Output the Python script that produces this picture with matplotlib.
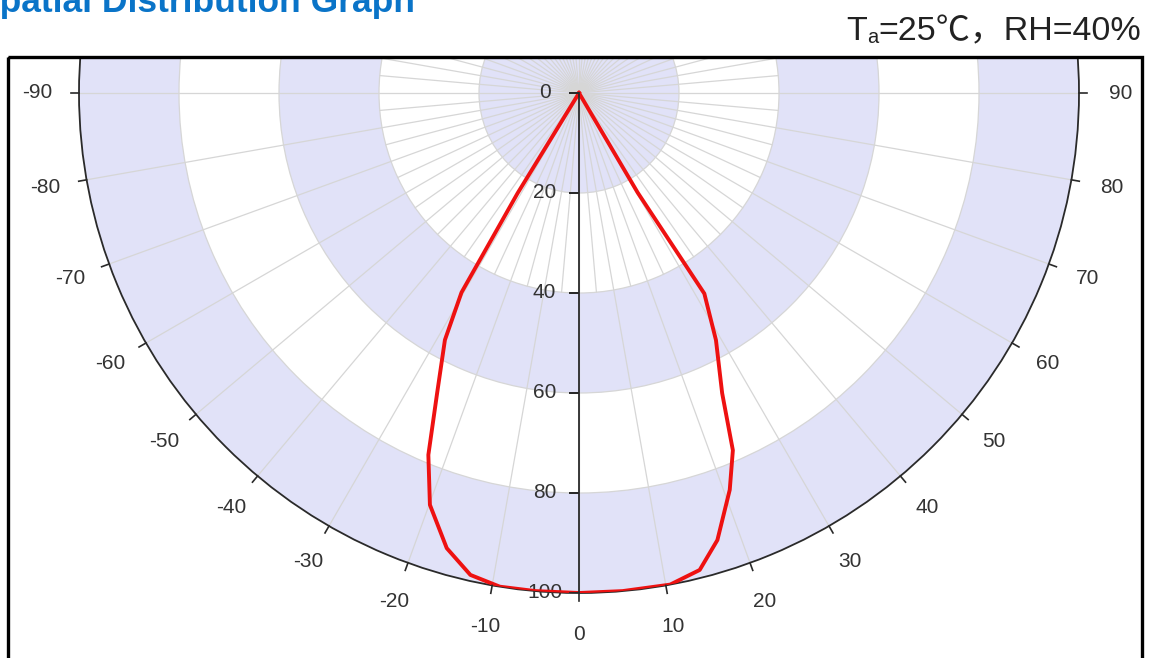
import numpy as np
import matplotlib.pyplot as plt
from matplotlib.patches import Rectangle

# relative luminous intensity (%) traced along the emission lobe, left to right
lobe_angle = [-31.5, -31.5, -30.5, -28.5, -25.3, -22.6, -19.9, -16.2, -12.7, -9.1, -5, 0,
              5, 10.5, 14.2, 17.2, 20.8, 23.3, 25.5, 29.0, 32.0, 30.5, 30.5]
lobe_value = [0, 23.5, 46.3, 56.2, 66.4, 78.4, 87.6, 94.8, 98.8, 100, 100, 100,
              100, 100, 98.4, 93.6, 84.9, 77.8, 66.5, 56.5, 47.3, 23.1, 0]

angle_ticks = list(range(-90, 91, 10))
radius_ticks = [0, 20, 40, 60, 80, 100]

W, H = 1150, 658
cx, cy, R = 579, 93, 500

band = '#e1e2f8'
grid = '#d6d6d6'
dark = '#2a2a2a'
label_font = 'Liberation Sans'

fig = plt.figure(figsize=(W / 100, H / 100), dpi=100)
ax = fig.add_axes([(cx - R) / W, (H - cy - R) / H, 2 * R / W, 2 * R / H],
                  projection='polar')
ax.set_theta_zero_location('S')
ax.set_theta_direction(1)
ax.set_ylim(0, 100)
ax.set_xticks([])
ax.set_yticks([20, 40, 60, 80])
ax.set_yticklabels([])
ax.yaxis.grid(True, color=grid, lw=0.9)
ax.xaxis.grid(False)
ax.spines['polar'].set_color(dark)
ax.spines['polar'].set_linewidth(1.3)

# shaded rings
for lo in (0, 40, 80):
    ax.bar(0, 20, width=2 * np.pi, bottom=lo, color=band, lw=0, zorder=0.5)

# spokes
for a in range(0, 360, 10):
    ax.plot([np.deg2rad(a)] * 2, [0, 100], color=grid, lw=0.9, zorder=1)
for a in range(5, 360, 10):
    ax.plot([np.deg2rad(a)] * 2, [0, 40], color=grid, lw=0.9, zorder=1)

# angle ticks and labels
for a in angle_ticks:
    t = np.deg2rad(a)
    ax.plot([t, t], [100, 101.6], color=dark, lw=1.2, clip_on=False, zorder=5)
    ax.text(t, 108.3, str(a), ha='center', va='center', fontsize=15,
            color='#333333', family=label_font, clip_on=False)

# radial axis
ax.plot([0, 0], [0, 100], color=dark, lw=1.3, zorder=5)
ax.plot([0] * len(radius_ticks), radius_ticks, ls='none', marker=0, ms=7,
        mec=dark, mew=1.2, zorder=5)
for r in radius_ticks:
    ax.annotate(str(r), xy=(0, r), xytext=(-34.5, 0), textcoords='offset pixels',
                ha='center', va='center', fontsize=15, color='#333333',
                family=label_font)

ax.plot(np.deg2rad(lobe_angle), lobe_value, color='#ee1111', lw=2.8,
        solid_joinstyle='round', zorder=4)

# overlay: header area, frame and captions
ov = fig.add_axes([0, 0, 1, 1], zorder=3)
ov.set_xlim(0, W)
ov.set_ylim(H, 0)
ov.axis('off')
ov.patch.set_visible(False)
ov.add_patch(Rectangle((0, 0), W, 57, color='white', lw=0))
ov.add_patch(Rectangle((8, 57), 1134, 640, fill=False, ec='black', lw=2.4))

ov.text(415, 12, 'Spatial Distribution Graph', ha='right', va='baseline',
        fontsize=25.5, fontweight='bold', color='#0a74c8', family=label_font)

cond_font = ['Liberation Sans', 'Noto Sans CJK SC']
main = ov.text(1141, 40, '=25℃，RH=40%', ha='right', va='baseline',
               fontsize=24.5, color='#222222', family=cond_font)
sub = ov.annotate('a', xy=(0, 0), xycoords=main, ha='right', va='bottom',
                  fontsize=14.5, color='#222222', family=cond_font)
ov.annotate('T', xy=(0, 0), xycoords=(sub, main), ha='right', va='bottom',
            fontsize=24.5, color='#222222', family=cond_font)

fig.savefig('out.png', dpi=100)
